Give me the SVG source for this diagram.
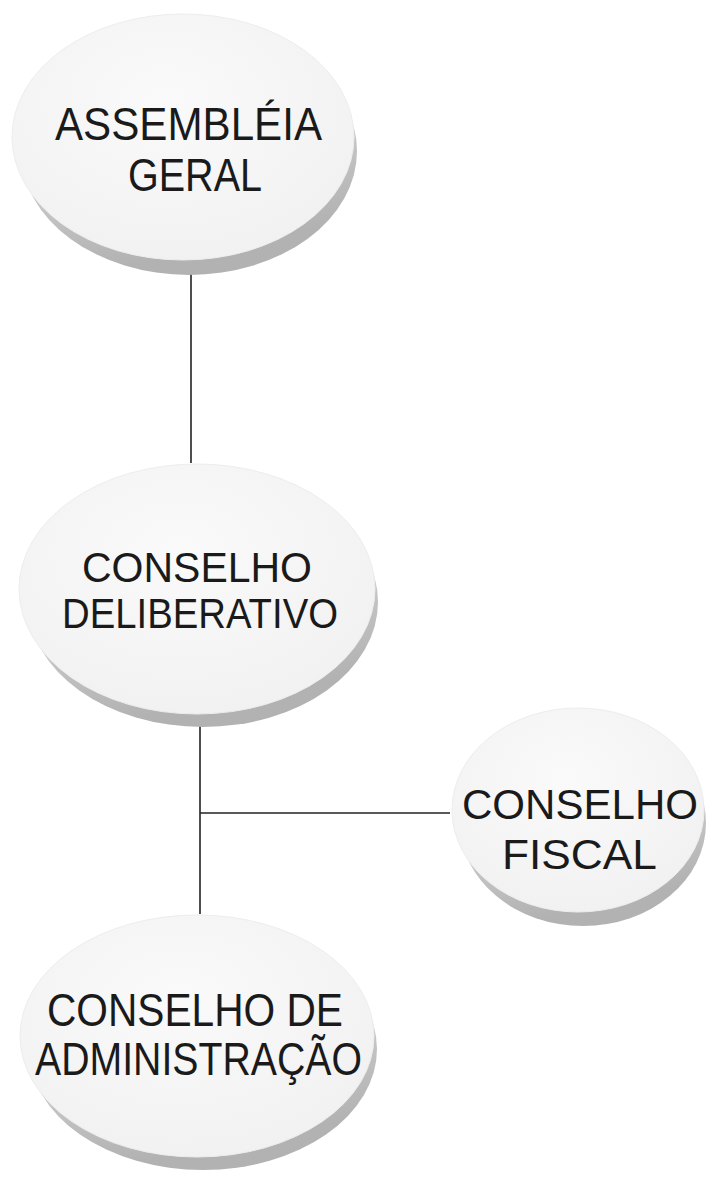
<svg xmlns="http://www.w3.org/2000/svg" width="709" height="1177" viewBox="0 0 709 1177">
<defs>
<linearGradient id="rim" x1="0" y1="0.3" x2="0.2" y2="1">
<stop offset="0" stop-color="#e8e8e8"/>
<stop offset="0.55" stop-color="#c6c6c6"/>
<stop offset="1" stop-color="#b2b2b2"/>
</linearGradient>
<radialGradient id="face" cx="0.45" cy="0.35" r="0.75">
<stop offset="0" stop-color="#fafafa"/>
<stop offset="1" stop-color="#f0f0f0"/>
</radialGradient>
</defs>
<style>
.rim{fill:url(#rim);stroke:none}
.face{fill:url(#face);stroke:#ededed;stroke-width:1}
.lbl{font-family:"Liberation Sans",Arial,sans-serif;font-size:46px;fill:#1a1a1a}
.md{font-size:43px}
.sm{font-size:42px}
.con{stroke:#222;stroke-width:1.6;fill:none}
</style>
<rect width="709" height="1177" fill="#ffffff"/>
<g id="connectors">
<line class="con" x1="191" y1="273" x2="191" y2="463"/>
<line class="con" x1="200" y1="726" x2="200" y2="914"/>
<line class="con" x1="200" y1="813" x2="450" y2="813"/>
</g>
<g id="node-assembleia">
<ellipse class="rim" cx="189" cy="151" rx="168" ry="124"/>
<ellipse class="face" cx="183" cy="137" rx="171" ry="123"/>
<text class="lbl" x="55" y="140" textLength="267" lengthAdjust="spacingAndGlyphs">ASSEMBLÉIA</text>
<text class="lbl" x="128" y="191" textLength="134" lengthAdjust="spacingAndGlyphs">GERAL</text>
</g>
<g id="node-deliberativo">
<ellipse class="rim" cx="203" cy="602" rx="175" ry="125"/>
<ellipse class="face" cx="197" cy="589" rx="178" ry="125"/>
<text class="lbl md" x="82" y="582" textLength="230" lengthAdjust="spacingAndGlyphs">CONSELHO</text>
<text class="lbl md" x="62" y="628" textLength="276" lengthAdjust="spacingAndGlyphs">DELIBERATIVO</text>
</g>
<g id="node-fiscal">
<ellipse class="rim" cx="583" cy="823" rx="123" ry="103"/>
<ellipse class="face" cx="578" cy="810" rx="126" ry="102"/>
<text class="lbl sm" x="462" y="819" textLength="236" lengthAdjust="spacingAndGlyphs">CONSELHO</text>
<text class="lbl sm" x="502" y="869" textLength="155" lengthAdjust="spacingAndGlyphs">FISCAL</text>
</g>
<g id="node-administracao">
<ellipse class="rim" cx="203" cy="1049" rx="174" ry="121"/>
<ellipse class="face" cx="197" cy="1036" rx="177" ry="121"/>
<text class="lbl" x="47" y="1026" textLength="296" lengthAdjust="spacingAndGlyphs">CONSELHO DE</text>
<text class="lbl" x="35" y="1075" textLength="327" lengthAdjust="spacingAndGlyphs">ADMINISTRAÇÃO</text>
</g>
</svg>
